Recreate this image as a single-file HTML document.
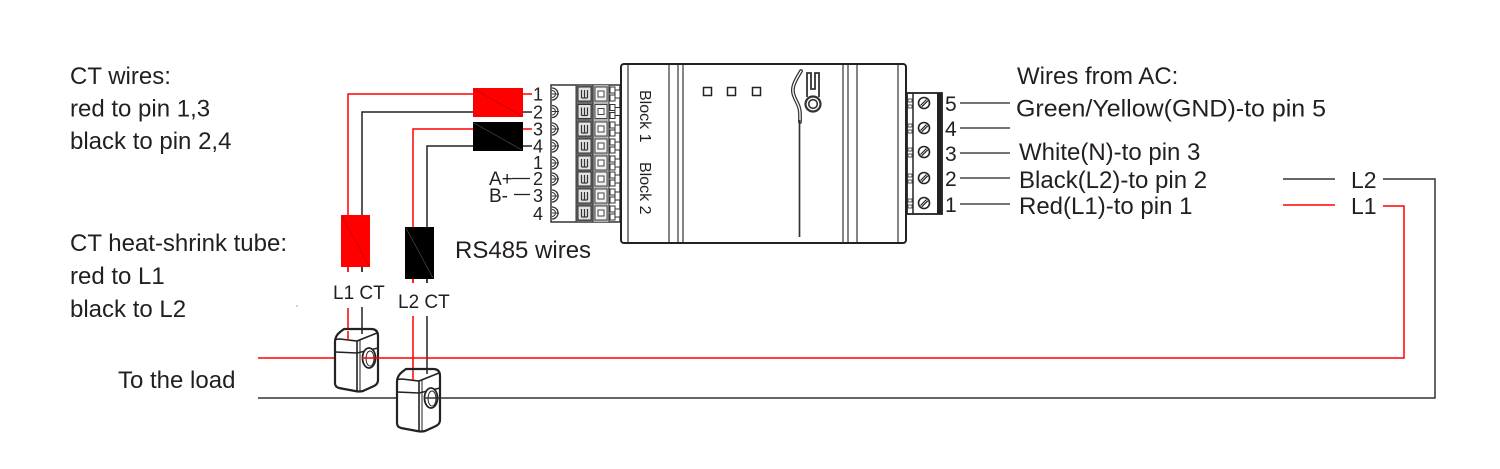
<!DOCTYPE html>
<html>
<head>
<meta charset="utf-8">
<style>
html,body{margin:0;padding:0;background:#fff;}
body{width:1500px;height:469px;overflow:hidden;}
svg{display:block;}
text{font-family:"Liberation Sans",Arial,sans-serif;fill:#231f20;}
</style>
</head>
<body>
<svg width="1500" height="469" viewBox="0 0 1500 469" xmlns="http://www.w3.org/2000/svg">
<defs>
  <g id="crow">
    <path d="M552,-6 A6,6 0 0 1 552,6" fill="none" stroke="#333" stroke-width="1.3"/>
    <path d="M552,-3.5 A3.5,3.5 0 0 1 552,3.5" fill="none" stroke="#333" stroke-width="1"/>
    <line x1="552" y1="0" x2="559" y2="0" stroke="#333" stroke-width="1"/>
    <rect x="578" y="-7" width="13" height="14" fill="#e2e2e2" stroke="#333" stroke-width="1"/>
    <line x1="581.5" y1="-4" x2="581.5" y2="4" stroke="#333" stroke-width="1.2"/>
    <line x1="584.5" y1="-4" x2="584.5" y2="4" stroke="#333" stroke-width="1.2"/>
    <line x1="587.5" y1="-4" x2="587.5" y2="4" stroke="#333" stroke-width="1.2"/>
    <line x1="581.5" y1="4" x2="587.5" y2="4" stroke="#333" stroke-width="1.2"/>
    <rect x="595" y="-7" width="12" height="14" fill="#f2f2f2" stroke="#444" stroke-width="1"/>
    <rect x="598" y="-3" width="6" height="6" fill="#fff" stroke="#444" stroke-width="1"/>
    <rect x="610" y="-7" width="5" height="6" fill="#fff" stroke="#333" stroke-width="1"/>
    <rect x="610" y="1" width="5" height="6" fill="#fff" stroke="#333" stroke-width="1"/>
    <rect x="615" y="-4" width="5" height="8" fill="#fff" stroke="#333" stroke-width="1"/>
  </g>
  <g id="srow">
    <rect x="908" y="-4" width="4" height="3" fill="#fff" stroke="#333" stroke-width="0.8"/>
    <rect x="908" y="2" width="4" height="3" fill="#fff" stroke="#333" stroke-width="0.8"/>
    <circle cx="924" cy="0" r="5.5" fill="#fff" stroke="#222" stroke-width="1.6"/>
    <line x1="920.5" y1="2.5" x2="926.5" y2="-3.5" stroke="#222" stroke-width="1.2"/>
    <line x1="921.8" y1="3.8" x2="927.8" y2="-2.2" stroke="#222" stroke-width="1.2"/>
  </g>
  <g id="ct">
    <path d="M344,329 L371,329 Q378,329 378,336 L378,380 Q378,384 374,386 L363,391 Q359,392 355,391 L339,388 Q335,387 335,383 L335,342 Q335,336 340,332 Z" fill="#fff" stroke="#222" stroke-width="2.2" stroke-linejoin="round"/>
    <path d="M335,340 Q336,339 340,339 L357,341 L377,333" fill="none" stroke="#222" stroke-width="1.6"/>
    <line x1="357" y1="341" x2="357" y2="391" stroke="#222" stroke-width="1.6"/>
    <line x1="360" y1="340" x2="360" y2="391" stroke="#222" stroke-width="1"/>
    <path d="M335,352 L357,353 L378,348" fill="none" stroke="#222" stroke-width="1.6"/>
    <ellipse cx="369" cy="358" rx="6.5" ry="10" fill="#fff" stroke="#222" stroke-width="1.8"/>
    <ellipse cx="370" cy="358.5" rx="4" ry="7.5" fill="none" stroke="#222" stroke-width="1"/>
  </g>
</defs>

<!-- Left texts -->
<text x="70" y="84" font-size="24">CT wires:</text>
<text x="70" y="116.5" font-size="24">red to pin 1,3</text>
<text x="70" y="149" font-size="24">black to pin 2,4</text>
<text x="70" y="251" font-size="24">CT heat-shrink tube:</text>
<text x="70" y="284" font-size="24">red to L1</text>
<text x="70" y="317" font-size="24">black to L2</text>
<text x="118" y="388" font-size="24">To the load</text>
<text x="455" y="258" font-size="24">RS485 wires</text>
<circle cx="297" cy="306" r="0.8" fill="#999"/>

<!-- CT wires upper -->
<polyline points="348,272 348,94 473,94" fill="none" stroke="#f00" stroke-width="1.5"/>
<polyline points="362,272 362,112 473,112" fill="none" stroke="#222" stroke-width="1.5"/>
<polyline points="413,283 413,129 473,129" fill="none" stroke="#f00" stroke-width="1.5"/>
<polyline points="427,283 427,146 473,146" fill="none" stroke="#222" stroke-width="1.5"/>
<line x1="523" y1="94" x2="532" y2="94" stroke="#f00" stroke-width="1.5"/>
<line x1="523" y1="112" x2="532" y2="112" stroke="#222" stroke-width="1.5"/>
<line x1="523" y1="129" x2="532" y2="129" stroke="#f00" stroke-width="1.5"/>
<line x1="523" y1="146" x2="532" y2="146" stroke="#222" stroke-width="1.5"/>

<!-- connector blocks -->
<rect x="473" y="88" width="50" height="29" fill="#f00"/>
<line x1="474" y1="89" x2="522" y2="116" stroke="#b00000" stroke-width="0.6"/>
<rect x="473" y="122" width="50" height="29" fill="#000"/>
<line x1="474" y1="123" x2="522" y2="150" stroke="#555" stroke-width="0.6"/>

<!-- heat shrink tubes -->
<rect x="341" y="215" width="29" height="52" fill="#f00"/>
<line x1="342" y1="216" x2="369" y2="266" stroke="#c00000" stroke-width="0.6"/>
<rect x="405" y="227" width="29" height="52" fill="#000"/>
<line x1="406" y1="228" x2="433" y2="278" stroke="#555" stroke-width="0.6"/>
<line x1="348" y1="267" x2="348" y2="272" stroke="#f00" stroke-width="1.5"/>
<line x1="362" y1="267" x2="362" y2="272" stroke="#222" stroke-width="1.5"/>
<line x1="413" y1="279" x2="413" y2="283" stroke="#f00" stroke-width="1.5"/>
<line x1="427" y1="279" x2="427" y2="283" stroke="#222" stroke-width="1.5"/>

<text x="333" y="299" font-size="19">L1 CT</text>
<text x="398" y="308" font-size="19">L2 CT</text>

<!-- CT lower wires -->
<line x1="348" y1="308" x2="348" y2="340" stroke="#f00" stroke-width="1.5"/>
<line x1="362" y1="307" x2="362" y2="333" stroke="#222" stroke-width="1.5"/>
<line x1="413" y1="316" x2="413" y2="380" stroke="#f00" stroke-width="1.5"/>
<line x1="427" y1="316" x2="427" y2="373" stroke="#222" stroke-width="1.5"/>

<!-- load lines left parts -->
<line x1="258" y1="358" x2="336" y2="358" stroke="#f00" stroke-width="1.5"/>
<line x1="258" y1="398" x2="396" y2="398" stroke="#333" stroke-width="1.5"/>

<use href="#ct"/>
<use href="#ct" transform="translate(62,40)"/>
<line x1="348" y1="331" x2="348" y2="340" stroke="#f00" stroke-width="1.5"/>
<line x1="362" y1="329" x2="362" y2="334" stroke="#222" stroke-width="1.5"/>
<line x1="413" y1="370" x2="413" y2="380" stroke="#f00" stroke-width="1.5"/>
<line x1="427" y1="369" x2="427" y2="374" stroke="#222" stroke-width="1.5"/>

<!-- load lines right parts -->
<polyline points="362,358 1404,358 1404,206 1383,206" fill="none" stroke="#f00" stroke-width="1.5"/>
<polyline points="424,398 1435,398 1435,179 1383,179" fill="none" stroke="#333" stroke-width="1.5"/>

<!-- right L1/L2 -->
<line x1="1283" y1="179" x2="1335" y2="179" stroke="#333" stroke-width="1.5"/>
<line x1="1283" y1="205" x2="1335" y2="205" stroke="#f00" stroke-width="1.5"/>
<text x="1351" y="188" font-size="23">L2</text>
<text x="1351" y="214" font-size="23">L1</text>

<!-- left pin terminal -->
<rect x="551" y="85" width="69" height="137" fill="#fff" stroke="#333" stroke-width="1.5"/>
<rect x="576" y="85" width="17" height="137" fill="#6a6a6a"/>
<rect x="593" y="85" width="16" height="137" fill="#b5b5b5"/>
<line x1="576" y1="85" x2="576" y2="222" stroke="#333" stroke-width="1"/>
<line x1="593" y1="85" x2="593" y2="222" stroke="#333" stroke-width="1"/>
<line x1="609" y1="85" x2="609" y2="222" stroke="#333" stroke-width="1"/>
<use href="#crow" transform="translate(0,94)"/>
<use href="#crow" transform="translate(0,111.5)"/>
<use href="#crow" transform="translate(0,129)"/>
<use href="#crow" transform="translate(0,146)"/>
<use href="#crow" transform="translate(0,163)"/>
<use href="#crow" transform="translate(0,179)"/>
<use href="#crow" transform="translate(0,196)"/>
<use href="#crow" transform="translate(0,213)"/>

<g font-size="18">
<text x="533" y="100.5">1</text>
<text x="533" y="118.5">2</text>
<text x="533" y="135.5">3</text>
<text x="533" y="152.5">4</text>
<text x="533" y="169">1</text>
<text x="533" y="185">2</text>
<text x="533" y="202">3</text>
<text x="533" y="220">4</text>
<text x="489" y="185" font-size="19">A+</text>
<text x="489" y="202" font-size="19">B-</text>
</g>
<line x1="512" y1="178.5" x2="530" y2="178.5" stroke="#222" stroke-width="1.3"/>
<line x1="514" y1="194.5" x2="530" y2="194.5" stroke="#222" stroke-width="1.3"/>

<!-- device body -->
<rect x="621" y="64" width="285" height="179" rx="3" fill="#fff" stroke="#222" stroke-width="2"/>
<g stroke="#333" stroke-width="1.2">
<line x1="628" y1="65" x2="628" y2="242"/>
<line x1="669" y1="65" x2="669" y2="242"/>
<line x1="678" y1="65" x2="678" y2="242"/>
<line x1="683" y1="65" x2="683" y2="242"/>
<line x1="843" y1="65" x2="843" y2="242"/>
<line x1="848" y1="65" x2="848" y2="242"/>
<line x1="857" y1="65" x2="857" y2="242"/>
<line x1="898" y1="65" x2="898" y2="242"/>
</g>
<text transform="translate(640,90) rotate(90)" font-size="16">Block 1</text>
<text transform="translate(640,162) rotate(90)" font-size="16">Block 2</text>
<rect x="703.5" y="87.5" width="8" height="8" fill="#fff" stroke="#222" stroke-width="1.5"/>
<rect x="727.5" y="87.5" width="8" height="8" fill="#fff" stroke="#222" stroke-width="1.5"/>
<rect x="752.5" y="87.5" width="8" height="8" fill="#fff" stroke="#222" stroke-width="1.5"/>

<!-- hook -->
<path d="M801,71 C797,78 792,85 793,92 C794,100 800,104 800,114 L800,122" fill="none" stroke="#333" stroke-width="3.8" stroke-linecap="round"/>
<path d="M801,71 C797,78 792,85 793,92 C794,100 800,104 800,114 L800,122" fill="none" stroke="#fff" stroke-width="1.3" stroke-linecap="round"/>
<line x1="799.5" y1="120" x2="799.5" y2="237" stroke="#333" stroke-width="1.7"/>
<path d="M807,97 L807,73 L811,73 L811,89 L815,89 L815,73 L819,73 L819,97" fill="none" stroke="#333" stroke-width="1.8"/>
<circle cx="813" cy="104" r="7.5" fill="#fff" stroke="#333" stroke-width="2.2"/>
<circle cx="813" cy="104" r="4.3" fill="#fff" stroke="#333" stroke-width="1.6"/>

<!-- right terminal -->
<rect x="907" y="93" width="35" height="121" fill="#fff" stroke="#222" stroke-width="1.8"/>
<line x1="913" y1="93" x2="913" y2="214" stroke="#222" stroke-width="1.5"/>
<rect x="937" y="93" width="5" height="121" fill="#222"/>
<use href="#srow" transform="translate(0,103)"/>
<use href="#srow" transform="translate(0,128)"/>
<use href="#srow" transform="translate(0,152)"/>
<use href="#srow" transform="translate(0,178)"/>
<use href="#srow" transform="translate(0,203)"/>
<g font-size="21">
<text x="945" y="111">5</text>
<text x="945" y="136">4</text>
<text x="945" y="161">3</text>
<text x="945" y="186">2</text>
<text x="945" y="212">1</text>
</g>
<g stroke="#222" stroke-width="1.3">
<line x1="960" y1="103" x2="1010" y2="103"/>
<line x1="960" y1="128" x2="1010" y2="128"/>
<line x1="960" y1="153" x2="1010" y2="153"/>
<line x1="960" y1="178" x2="1010" y2="178"/>
<line x1="960" y1="204" x2="1010" y2="204"/>
</g>

<text x="1017" y="84" font-size="24">Wires from AC:</text>
<text x="1016" y="116.5" font-size="24" textLength="310" lengthAdjust="spacingAndGlyphs">Green/Yellow(GND)-to pin 5</text>
<text x="1019" y="160" font-size="24">White(N)-to pin 3</text>
<text x="1019" y="188" font-size="24">Black(L2)-to pin 2</text>
<text x="1019" y="214" font-size="24">Red(L1)-to pin 1</text>
</svg>
</body>
</html>
